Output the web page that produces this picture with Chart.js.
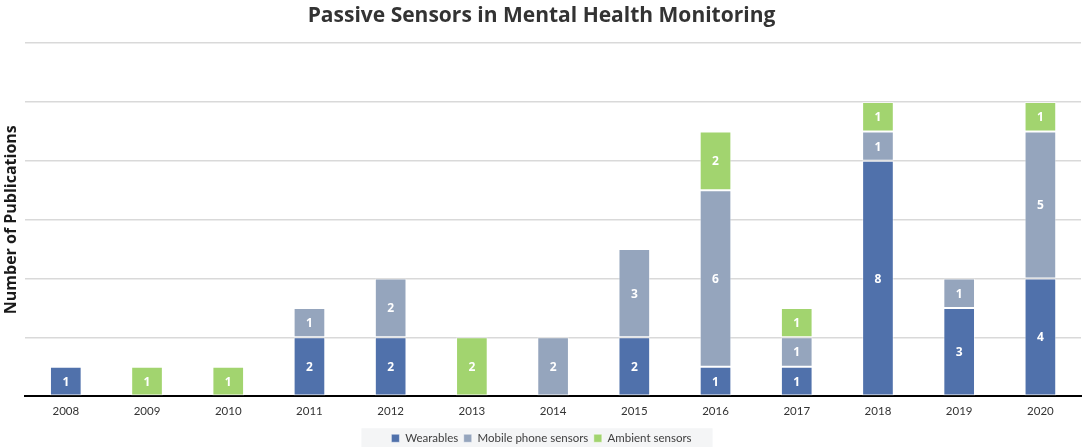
<!DOCTYPE html>
<html>
<head>
<meta charset="utf-8">
<script src="https://cdn.jsdelivr.net/npm/chart.js@4"></script>
<style>
html,body{margin:0;padding:0;background:#fff;}
#wrap{width:1084px;height:447px;position:relative;}
</style>
</head>
<body>
<div id="wrap"><canvas id="c"></canvas></div>
<script>
const years = ['2008','2009','2010','2011','2012','2013','2014','2015','2016','2017','2018','2019','2020'];
const wearables = [1,0,0,2,2,0,0,2,1,1,8,3,4];
const mobilePhone = [0,0,0,1,2,0,2,3,6,1,1,1,5];
const ambient = [0,1,1,0,0,2,0,0,2,1,1,0,1];
const seriesNames = ['Wearables','Mobile phone sensors','Ambient sensors'];
const yTicks = [0,2,4,6,8,10,12];

const colors = ['#5071ab','#95a5bd','#a2d46f'];

const labelPlugin = {
  id:'segLabels',
  afterDatasetsDraw(chart){
    const ctx = chart.ctx;
    ctx.save();
    ctx.font = 'bold 12px "Open Sans", sans-serif';
    ctx.fillStyle = '#ffffff';
    ctx.textAlign = 'center';
    ctx.textBaseline = 'middle';
    chart.data.datasets.forEach((ds,i)=>{
      const meta = chart.getDatasetMeta(i);
      meta.data.forEach((bar,j)=>{
        const v = ds.data[j];
        if(!v) return;
        const y = (bar.y + bar.base)/2;
        ctx.fillText(String(v), bar.x, y+1);
      });
    });
    ctx.restore();
  }
};

const legendBg = {
  id:'legendBg',
  beforeDraw(chart){
    const lg = chart.legend;
    if(!lg || !lg.legendHitBoxes || !lg.legendHitBoxes.length) return;
    const hb = lg.legendHitBoxes;
    let l = Infinity, r = -Infinity;
    hb.forEach(b=>{ l=Math.min(l,b.left); r=Math.max(r,b.left+b.width); });
    const ctx = chart.ctx;
    ctx.save();
    ctx.fillStyle = '#f4f5f6';
    const cy = hb[0].top + hb[0].height/2;
    ctx.fillRect(l-30, cy-10, (r-l)+51, 22);
    ctx.restore();
  }
};

new Chart(document.getElementById('c'), {
  type:'bar',
  data:{
    labels: years,
    datasets:[
      {label:seriesNames[0], data:wearables, backgroundColor:colors[0]},
      {label:seriesNames[1], data:mobilePhone, backgroundColor:colors[1]},
      {label:seriesNames[2], data:ambient, backgroundColor:colors[2]}
    ].map(d=>Object.assign(d,{borderColor:'rgba(255,255,255,0.45)',borderWidth:1,categoryPercentage:1,barPercentage:0.39,borderSkipped:false}))
  },
  options:{
    responsive:true,
    maintainAspectRatio:false,
    animation:false,
    devicePixelRatio:1,
    layout:{padding:{left:2,right:3,top:0,bottom:-7}},
    plugins:{
      title:{display:true,text:'Passive Sensors in Mental Health Monitoring',color:'#333333',
        font:{family:'"Open Sans", sans-serif',size:21,weight:'bold'},padding:{top:3,bottom:15}},
      legend:{position:'bottom',
        labels:{boxWidth:8,boxHeight:8,color:'#404040',padding:5.5,
          font:{family:'Lato, sans-serif',size:11.5}}},
      tooltip:{enabled:false}
    },
    scales:{
      x:{stacked:true,
        grid:{display:false,drawTicks:false},
        border:{display:true,color:'#000000',width:2},
        ticks:{color:'#333333',padding:8.5,font:{family:'Lato, sans-serif',size:11.5}}},
      y:{stacked:true,min:0,max:12,
        afterBuildTicks(axis){ axis.ticks = yTicks.map(v=>({value:v})); },
        grid:{color:'#d9d9d9',lineWidth:1.5,drawTicks:false},
        border:{display:false},
        ticks:{display:false},
        title:{display:true,text:'Number of Publications',color:'#1a1a1a',
          font:{family:'"Open Sans", sans-serif',size:16,weight:'bold'},padding:{top:0,bottom:4}}}
    }
  },
  plugins:[legendBg,labelPlugin]
});
</script>
</body>
</html>
